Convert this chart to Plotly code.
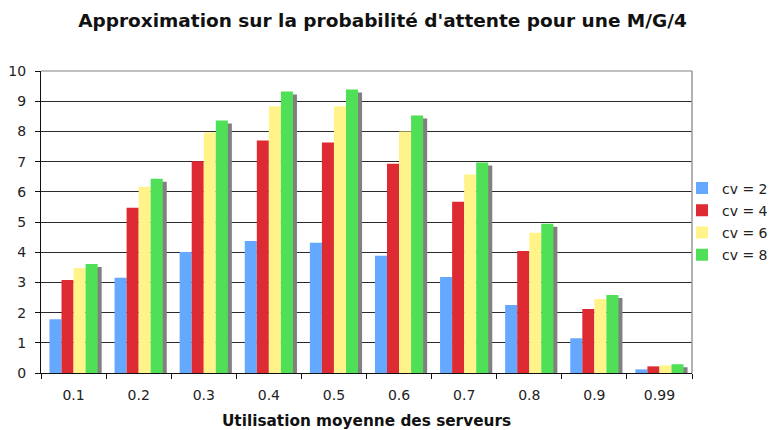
import plotly.graph_objects as go

categories = ["0.1", "0.2", "0.3", "0.4", "0.5", "0.6", "0.7", "0.8", "0.9", "0.99"]
series_names = ["cv = 2", "cv = 4", "cv = 6", "cv = 8"]
cv2 = [1.78, 3.15, 4.01, 4.37, 4.31, 3.88, 3.18, 2.25, 1.15, 0.12]
cv4 = [3.08, 5.47, 7.01, 7.70, 7.63, 6.93, 5.67, 4.04, 2.12, 0.22]
cv6 = [3.48, 6.17, 7.96, 8.83, 8.83, 8.00, 6.57, 4.64, 2.45, 0.25]
cv8 = [3.61, 6.43, 8.36, 9.32, 9.39, 8.53, 6.97, 4.94, 2.58, 0.29]
yticks = [0, 1, 2, 3, 4, 5, 6, 7, 8, 9, 10]

colors = ["#64a9ff", "#de2a32", "#fff38a", "#4fe058"]
shadow_color = "#808080"

bar_w = 0.185
start = -0.37
shadow_dx = 0.062   # ~4px
shadow_dy = 0.10    # ~3px

W, H = 768, 422  # page body adds an 8px margin

fig = go.Figure()

# drop shadow of the last bar in each group (the only one visible)
fig.add_trace(go.Bar(
    x=categories, y=[v - shadow_dy for v in cv8], width=bar_w,
    offset=start + 3 * bar_w + shadow_dx, marker=dict(color=shadow_color, line=dict(width=0)),
    showlegend=False, hoverinfo="skip"))

for i, (name, vals) in enumerate(zip(series_names, [cv2, cv4, cv6, cv8])):
    fig.add_trace(go.Bar(
        x=categories, y=vals, name=name, width=bar_w, offset=start + i * bar_w,
        marker=dict(color=colors[i], line=dict(width=0)), legendgroup=name))

fig.update_layout(
    width=W, height=H,
    barmode="overlay",
    paper_bgcolor="white", plot_bgcolor="white",
    font=dict(family="DejaVu Sans", size=14, color="#222"),
    margin=dict(l=33, r=84, t=63, b=57, autoexpand=False),
    title=dict(text="<b>Approximation sur la probabilité d'attente pour une M/G/4</b>",
               x=374.5 / W, xref="container", xanchor="center",
               y=1 - 13 / H, yref="container", yanchor="middle",
               font=dict(size=18.5, color="#111")),
    showlegend=True,
    legend=dict(x=674 / W, xref="container", y=1 - 164.5 / H, yref="container",
                yanchor="top", xanchor="left",
                font=dict(size=14, color="#222"), tracegroupgap=1,
                traceorder="grouped", bgcolor="rgba(0,0,0,0)", itemwidth=30),
    xaxis=dict(type="category", categoryorder="array", categoryarray=categories,
               showline=True, linecolor="#111", linewidth=1, automargin=False,
               ticks="outside", tickson="boundaries", ticklen=5, tickcolor="#111",
               showgrid=False, tickfont=dict(size=14), ticklabelstandoff=9,
               title=dict(text="<b>Utilisation moyenne des serveurs</b>",
                          font=dict(size=15.3, color="#111"), standoff=15)),
    yaxis=dict(range=[0, 10], tickvals=yticks, showline=True, linecolor="#111", linewidth=1,
               ticks="outside", ticklen=5, tickcolor="#111", tickfont=dict(size=14),
               automargin=False, ticklabelstandoff=6,
               showgrid=True, gridcolor="#2a2a2a", gridwidth=1, zeroline=False),
    shapes=[
        dict(type="line", xref="paper", yref="paper", x0=0, x1=1, y0=1, y1=1,
             line=dict(color="#aaaaaa", width=1.5), layer="above"),
        dict(type="line", xref="paper", yref="paper", x0=1, x1=1, y0=0, y1=1,
             line=dict(color="#999999", width=1.5), layer="above"),
    ],
)

fig.write_html("out.html")
